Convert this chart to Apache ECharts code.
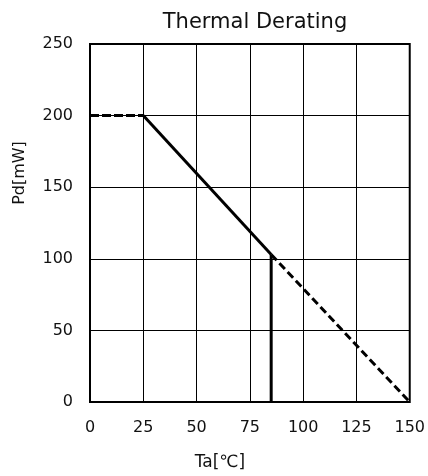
<!DOCTYPE html>
<html><head><meta charset="utf-8">
<script src="https://cdn.jsdelivr.net/npm/echarts@6/dist/echarts.min.js"></script>
<style>html,body{margin:0;padding:0;background:#fff}#c{width:428px;height:476px}</style>
</head><body><div id="c"></div>
<script>
var title = 'Thermal Derating';
var xName = 'Ta[℃]';
var yName = 'Pd[mW]';
var flatDashed = [[0, 200], [25, 200]];
var deratingSolid = [[25, 200], [85, 103]];
var cutoffSolid = [[85, 103], [85, 0]];
var extrapDashed = [[85, 103], [150, 0]];
var xTicks = [0, 25, 50, 75, 100, 125, 150];
var yTicks = [0, 50, 100, 150, 200, 250];

var font = 'DejaVu Sans';
var chart = echarts.init(document.getElementById('c'));
function line(data, type, w) {
  return { type: 'line', data: data, symbol: 'none', silent: true,
    lineStyle: { color: '#000', width: w, type: type } };
}
chart.setOption({
  animation: false,
  textStyle: { fontFamily: font },
  title: { text: title, left: 250, textAlign: 'center', top: 7,
    textStyle: { fontFamily: font, fontSize: 21, fontWeight: 'normal', color: '#111' } },
  grid: { left: 90, right: 18, top: 44, bottom: 72 },
  xAxis: { type: 'value', min: xTicks[0], max: xTicks[xTicks.length - 1], interval: 25,
    name: xName, nameLocation: 'middle', nameGap: 52,
    nameTextStyle: { fontFamily: font, fontSize: 17, color: '#111', padding: [0, 60, 0, 0] },
    axisLine: { show: false }, axisTick: { show: false },
    axisLabel: { fontFamily: font, fontSize: 16, color: '#111', margin: 18 },
    splitLine: { show: true, lineStyle: { color: '#000', width: 1 } } },
  yAxis: { type: 'value', min: yTicks[0], max: yTicks[yTicks.length - 1], interval: 50,
    name: yName, nameLocation: 'middle', nameGap: 62,
    nameTextStyle: { fontFamily: font, fontSize: 16, color: '#111', padding: [0, 0, 0, 100] },
    axisLine: { show: false }, axisTick: { show: false },
    axisLabel: { fontFamily: font, fontSize: 16, color: '#111', margin: 17 },
    splitLine: { show: true, lineStyle: { color: '#000', width: 1 } } },
  series: [
    line(flatDashed, [9, 3], 3),
    line(deratingSolid, 'solid', 3),
    line(cutoffSolid, 'solid', 3),
    line(extrapDashed, [8, 4], 3)
  ]
});
var p0 = chart.convertToPixel({gridIndex:0}, [xTicks[0], yTicks[yTicks.length-1]]);
var p1 = chart.convertToPixel({gridIndex:0}, [xTicks[xTicks.length-1], yTicks[0]]);
chart.setOption({ graphic: [{ type: 'rect', silent: true,
  shape: { x: p0[0], y: p0[1], width: p1[0]-p0[0], height: p1[1]-p0[1] },
  style: { fill: 'none', stroke: '#000', lineWidth: 2 } }] });
</script></body></html>
